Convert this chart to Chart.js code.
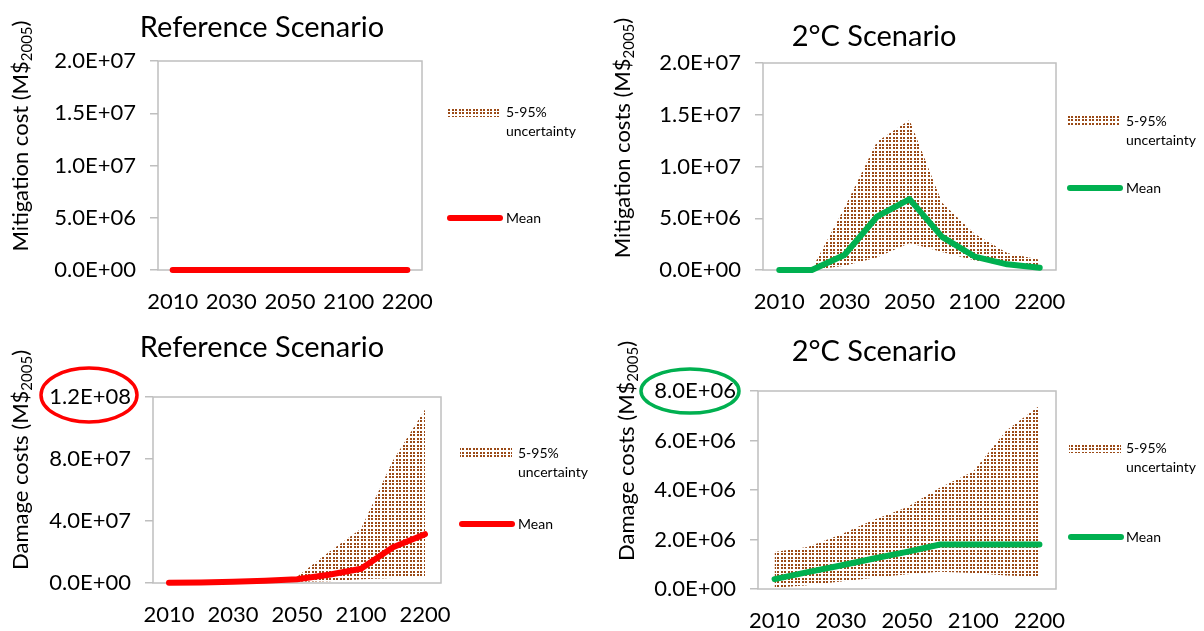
<!DOCTYPE html>
<html>
<head>
<meta charset="utf-8">
<script src="https://cdn.jsdelivr.net/npm/chart.js@4.4.1/dist/chart.umd.min.js"></script>
<style>
  body { margin: 0; background: #fff; }
  #wrap { position: relative; width: 1204px; height: 631px; }
  canvas { position: absolute; }
</style>
</head>
<body>
<div id="wrap">
  <canvas id="refMit" width="602" height="315" style="left:0;top:0"></canvas>
  <canvas id="twoMit" width="602" height="315" style="left:602px;top:0"></canvas>
  <canvas id="refDam" width="602" height="316" style="left:0;top:315px"></canvas>
  <canvas id="twoDam" width="602" height="316" style="left:602px;top:315px"></canvas>
</div>
<script>
// categories (only every other one is labelled on the axis)
const years = ['2010', '2020', '2030', '2040', '2050', '2075', '2100', '2150', '2200'];

// mitigation costs, reference scenario
const refMitMean = [0, 0, 0, 0, 0, 0, 0, 0, 0];
const refMitLow  = [0, 0, 0, 0, 0, 0, 0, 0, 0];
const refMitHigh = [0, 0, 0, 0, 0, 0, 0, 0, 0];

// mitigation costs, 2C scenario
const twoMitMean = [0, 0, 1.45e6, 5.15e6, 6.85e6, 3.2e6, 1.3e6, 0.55e6, 0.22e6];
const twoMitLow  = [0, 0, 0.4e6, 1.2e6, 2.6e6, 1.75e6, 0.95e6, 0.4e6, 0.15e6];
const twoMitHigh = [0, 0.1e6, 6.0e6, 12.4e6, 14.5e6, 6.5e6, 3.5e6, 1.65e6, 1.0e6];

// damage costs, reference scenario
const refDamMean = [0.2e6, 0.4e6, 0.8e6, 1.4e6, 2.4e6, 5.3e6, 9.2e6, 23e6, 31.5e6];
const refDamLow  = [0, 0, 0, 0.3e6, 0.8e6, 1.2e6, 2.5e6, 3.3e6, 4.4e6];
const refDamHigh = [0, 0, 0.1e6, 2.0e6, 4.0e6, 20e6, 35e6, 79e6, 112e6];

// damage costs, 2C scenario
const twoDamMean = [0.4e6, 0.68e6, 0.95e6, 1.23e6, 1.5e6, 1.8e6, 1.8e6, 1.8e6, 1.8e6];
const twoDamLow  = [0.05e6, 0.15e6, 0.3e6, 0.45e6, 0.6e6, 0.7e6, 0.65e6, 0.55e6, 0.5e6];
const twoDamHigh = [1.5e6, 1.7e6, 2.2e6, 2.8e6, 3.3e6, 4.1e6, 4.75e6, 6.4e6, 7.4e6];

const AXIS = '#bfbfbf';
const RED = '#ff0000';
const GREEN = '#00b050';
const FONT = 'Lato, "Open Sans", sans-serif';
Chart.defaults.font.family = FONT;

function sci(v) {
  if (v === 0) return '0.0E+00';
  const e = Math.floor(Math.log10(Math.abs(v)) + 1e-9);
  const m = v / Math.pow(10, e);
  return m.toFixed(1) + 'E' + (e < 0 ? '-' : '+') + String(Math.abs(e)).padStart(2, '0');
}

let dots = null;
function dotPattern() {
  if (dots) return dots;
  const c = document.createElement('canvas');
  c.width = 7; c.height = 7;
  const g = c.getContext('2d');
  g.fillStyle = '#9a4a17';
  [[0, 0], [4, 0], [0, 4], [4, 4]].forEach(p => g.fillRect(p[0], p[1], 2, 2));
  dots = g.createPattern(c, 'repeat');
  return dots;
}

// plot box, titles, legend and the highlight rings
const decor = {
  id: 'decor',
  beforeDatasetsDraw(chart) {
    const a = chart.chartArea, ctx = chart.ctx;
    ctx.save();
    ctx.strokeStyle = AXIS;
    ctx.lineWidth = 1.5;
    ctx.strokeRect(a.left, a.top, a.right - a.left, a.bottom - a.top);
    ctx.restore();
  },
  afterDraw(chart, args, o) {
    const ctx = chart.ctx;
    ctx.save();
    ctx.fillStyle = '#000';
    ctx.textBaseline = 'middle';

    ctx.font = '29px ' + FONT;
    ctx.textAlign = 'center';
    ctx.fillText(o.title, o.titleX, o.titleY);

    // y axis title with subscript
    ctx.save();
    ctx.translate(o.yTitleX, o.yTitleY);
    ctx.rotate(-Math.PI / 2);
    const big = '22px ' + FONT, small = '15px ' + FONT;
    ctx.font = big;
    const w1 = ctx.measureText(o.yTitle).width;
    const w3 = ctx.measureText(')').width;
    ctx.font = small;
    const w2 = ctx.measureText('2005').width;
    let x = -(w1 + w2 + w3) / 2;
    ctx.textAlign = 'left';
    ctx.font = big; ctx.fillText(o.yTitle, x, 0); x += w1;
    ctx.font = small; ctx.fillText('2005', x, 6); x += w2;
    ctx.font = big; ctx.fillText(')', x, 0);
    ctx.restore();

    // legend
    const L = o.legend;
    ctx.fillStyle = dotPattern();
    ctx.fillRect(L.x, L.bandY - 5, 52, 10);
    ctx.strokeStyle = o.color;
    ctx.lineWidth = 6;
    ctx.lineCap = 'round';
    ctx.beginPath();
    ctx.moveTo(L.x + 2, L.meanY);
    ctx.lineTo(L.x + 52, L.meanY);
    ctx.stroke();
    ctx.fillStyle = '#000';
    ctx.font = '14px ' + FONT;
    ctx.textAlign = 'left';
    ctx.fillText('5-95%', L.tx, L.bandY);
    ctx.fillText('uncertainty', L.tx, L.bandY + 19);
    ctx.fillText('Mean', L.tx, L.meanY);

    if (o.ring) {
      ctx.strokeStyle = o.color;
      ctx.lineWidth = 3.5;
      ctx.beginPath();
      ctx.ellipse(o.ring[0], o.ring[1], o.ring[2], o.ring[3], 0, 0, Math.PI * 2);
      ctx.stroke();
    }
    ctx.restore();
  }
};
Chart.register(decor);

function panel(id, mean, low, high, color, yMax, yStep, box, deco) {
  const cv = document.getElementById(id);
  const W = cv.width, H = cv.height;
  deco.color = color;
  new Chart(cv, {
    type: 'line',
    data: {
      labels: years,
      datasets: [
        { label: 'Mean', data: mean, borderColor: color, borderWidth: 6, pointRadius: 0,
          fill: false, clip: false, borderJoinStyle: 'round', borderCapStyle: 'round', tension: 0 },
        { label: '5%', data: low, borderWidth: 0, pointRadius: 0, fill: false,
          backgroundColor: 'rgba(0,0,0,0)', borderColor: 'rgba(0,0,0,0)' },
        { label: '95%', data: high, borderWidth: 0, pointRadius: 0, fill: '-1',
          backgroundColor: dotPattern(), borderColor: 'rgba(0,0,0,0)' }
      ]
    },
    options: {
      responsive: false,
      animation: false,
      events: [],
      layout: { padding: { left: 0, top: box.top, right: W - box.right, bottom: 0 } },
      plugins: { legend: { display: false }, tooltip: { enabled: false }, decor: deco },
      scales: {
        x: {
          offset: true,
          grid: { display: false, drawTicks: false },
          border: { display: false },
          ticks: {
            autoSkip: false, maxRotation: 0, padding: 19, color: '#000', font: { size: 22 },
            callback(v, i) { return i % 2 ? '' : this.getLabelForValue(v); }
          },
          afterFit(s) { s.height = H - box.bottom; }
        },
        y: {
          min: 0, max: yMax,
          grid: { drawOnChartArea: false, tickLength: 8, color: AXIS, lineWidth: 1.5 },
          border: { display: false },
          ticks: { stepSize: yStep, padding: 14, color: '#000', font: { size: 22 }, callback: v => sci(v) },
          afterFit(s) { s.width = box.left; }
        }
      }
    }
  });
}

panel('refMit', refMitMean, refMitLow, refMitHigh, RED, 2e7, 5e6,
  { left: 158, right: 422, top: 61, bottom: 270 },
  { title: 'Reference Scenario', titleX: 262, titleY: 28,
    yTitle: 'Mitigation cost (M$', yTitleX: 21, yTitleY: 136,
    legend: { x: 448, tx: 506, bandY: 112, meanY: 218 } });

panel('twoMit', twoMitMean, twoMitLow, twoMitHigh, GREEN, 2e7, 5e6,
  { left: 161, right: 454, top: 63, bottom: 270 },
  { title: '2°C Scenario', titleX: 272, titleY: 37,
    yTitle: 'Mitigation costs (M$', yTitleX: 21, yTitleY: 138,
    legend: { x: 466, tx: 524, bandY: 121, meanY: 188 } });

panel('refDam', refDamMean, refDamLow, refDamHigh, RED, 1.2e8, 4e7,
  { left: 153, right: 441, top: 82, bottom: 268 },
  { title: 'Reference Scenario', titleX: 262, titleY: 33,
    yTitle: 'Damage costs (M$', yTitleX: 21, yTitleY: 145,
    legend: { x: 460, tx: 518, bandY: 138, meanY: 209 },
    ring: [89, 80, 48, 27] });

panel('twoDam', twoDamMean, twoDamLow, twoDamHigh, GREEN, 8e6, 2e6,
  { left: 156, right: 454, top: 76, bottom: 274 },
  { title: '2°C Scenario', titleX: 272, titleY: 37,
    yTitle: 'Damage costs (M$', yTitleX: 25, yTitleY: 136,
    legend: { x: 467, tx: 524, bandY: 133, meanY: 222 },
    ring: [88, 76, 49, 22] });
</script>
</body>
</html>
